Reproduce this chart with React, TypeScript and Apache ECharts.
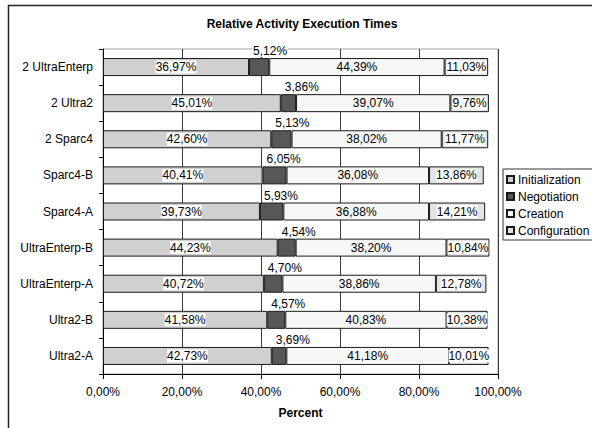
import React, { useEffect, useRef } from "react";
import * as echarts from "echarts";

const categories = [
  "2 UltraEnterp",
  "2 Ultra2",
  "2 Sparc4",
  "Sparc4-B",
  "Sparc4-A",
  "UltraEnterp-B",
  "UltraEnterp-A",
  "Ultra2-B",
  "Ultra2-A",
];
const initialization = [36.97, 45.01, 42.6, 40.41, 39.73, 44.23, 40.72, 41.58, 42.73];
const negotiation = [5.12, 3.86, 5.13, 6.05, 5.93, 4.54, 4.7, 4.57, 3.69];
const creation = [44.39, 39.07, 38.02, 36.08, 36.88, 38.2, 38.86, 40.83, 41.18];
const configuration = [11.03, 9.76, 11.77, 13.86, 14.21, 10.84, 12.78, 10.38, 10.01];
const seriesNames = ["Initialization", "Negotiation", "Creation", "Configuration"];
const xTicks = [0, 20, 40, 60, 80, 100];

const FONT = "'Liberation Sans', Arial, sans-serif";
const fmt = (v: number) => v.toFixed(2).replace(".", ",") + "%";

export default function App() {
  const ref = useRef<HTMLDivElement>(null);
  useEffect(() => {
    if (!ref.current) return;
    const chart = echarts.init(ref.current, null, { renderer: "svg" });
    const insideLabel = {
      show: true,
      position: "inside" as const,
      formatter: (p: any) => fmt(p.value),
      color: "#000",
      fontSize: 12,
      fontFamily: FONT,
      backgroundColor: "#fff",
      padding: [1, 0, 0, 0],
    };
    const base = {
      type: "bar" as const,
      stack: "total",
      barWidth: 18,
      itemStyle: { borderColor: "#1a1a1a", borderWidth: 1 },
    };
    chart.setOption({
      animation: false,
      textStyle: { fontFamily: FONT },
      graphic: [
        {
          type: "rect",
          shape: { x: 8.5, y: 5.5, width: 700, height: 700 },
          style: { fill: "none", stroke: "#222", lineWidth: 1.5 },
          silent: true,
          z: -10,
        },
        {
          type: "text",
          x: 302,
          y: 24,
          style: {
            text: "Relative Activity Execution Times",
            fontSize: 12,
            fontWeight: "bold",
            fontFamily: FONT,
            fill: "#000",
            align: "center",
            verticalAlign: "middle",
          },
        },
      ],
      grid: {
        left: 103,
        right: 94,
        top: 49,
        bottom: 54,
        show: true,
        borderColor: "#a0a0a0",
        borderWidth: 1,
        backgroundColor: "#fff",
      },
      legend: {
        orient: "vertical",
        left: 503,
        top: 169,
        data: seriesNames,
        icon: "rect",
        itemWidth: 7,
        itemHeight: 7,
        itemGap: 4,
        padding: [4, 8, 3, 3],
        borderColor: "#333",
        borderWidth: 1,
        backgroundColor: "#fff",
        textStyle: { fontSize: 12, color: "#000", fontFamily: FONT, lineHeight: 13, padding: [0, 0, 0, -1] },
      },
      xAxis: {
        type: "value",
        min: xTicks[0],
        max: xTicks[xTicks.length - 1],
        interval: 20,
        name: "Percent",
        nameLocation: "middle",
        nameGap: 33,
        nameTextStyle: { fontSize: 12, fontWeight: "bold", color: "#000", fontFamily: FONT },
        axisLine: { show: true, lineStyle: { color: "#000", width: 1 } },
        axisTick: { show: true, length: 5, lineStyle: { color: "#000" } },
        axisLabel: {
          formatter: (v: number) => fmt(v),
          fontSize: 12,
          color: "#000",
          margin: 12,
          fontFamily: FONT,
        },
        splitLine: { show: true, lineStyle: { color: "#3a3a3a", width: 1 } },
      },
      yAxis: {
        type: "category",
        data: categories,
        inverse: true,
        axisLine: { show: true, lineStyle: { color: "#000", width: 1 } },
        axisTick: { show: true, length: 4, lineStyle: { color: "#000" } },
        axisLabel: { fontSize: 12, color: "#000", margin: 10, fontFamily: FONT },
        splitLine: { show: false },
      },
      series: [
        {
          ...base,
          name: seriesNames[0],
          data: initialization,
          itemStyle: { ...base.itemStyle, color: "#d0d0d0" },
          label: insideLabel,
        },
        {
          ...base,
          name: seriesNames[1],
          data: negotiation,
          itemStyle: { ...base.itemStyle, color: "#575757" },
          label: {
            show: true,
            position: [3, -13],
            align: "left",
            verticalAlign: "top",
            formatter: (p: any) => fmt(p.value),
            color: "#000",
            fontSize: 12,
            fontFamily: FONT,
            backgroundColor: "#fff",
            padding: [0, 1, 0, 1],
          },
        },
        {
          ...base,
          name: seriesNames[2],
          data: creation,
          itemStyle: { ...base.itemStyle, color: "#f7f7f7" },
          label: { ...insideLabel, backgroundColor: "transparent" },
        },
        {
          ...base,
          name: seriesNames[3],
          data: configuration,
          itemStyle: { ...base.itemStyle, color: "#e4e4e4" },
          label: insideLabel,
        },
      ],
    });
    return () => chart.dispose();
  }, []);
  return (
    <div
      ref={ref}
      style={{ position: "absolute", left: 0, top: 0, width: 592, height: 428, background: "#fff" }}
    />
  );
}
